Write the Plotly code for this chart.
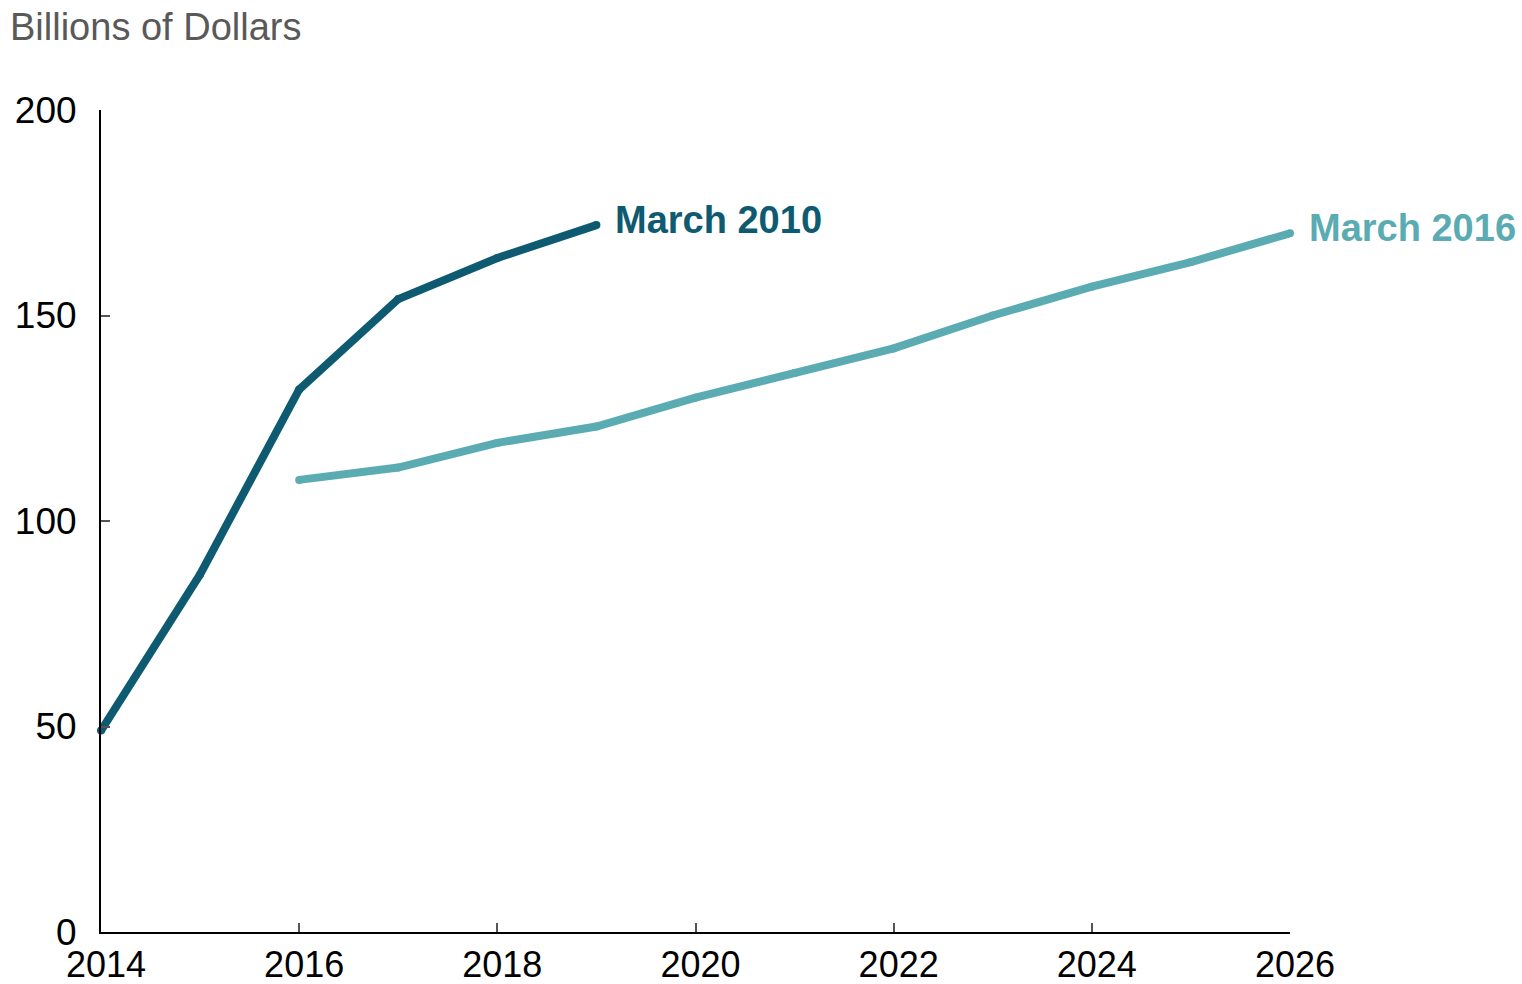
import plotly.graph_objects as go

# Projections, billions of dollars
years_2010 = [2014, 2015, 2016, 2017, 2018, 2019]
values_2010 = [49, 87, 132, 154, 164, 172]

years_2016 = [2016, 2017, 2018, 2019, 2020, 2021, 2022, 2023, 2024, 2025, 2026]
values_2016 = [110, 113, 119, 123, 130, 136, 142, 150, 157, 163, 170]

series_names = ["March 2010", "March 2016"]
x_ticks = [2014, 2016, 2018, 2020, 2022, 2024, 2026]
y_ticks = [0, 50, 100, 150, 200]

dark = "#0e5a70"
light = "#5aabb2"
font_family = "Liberation Sans, Arial, sans-serif"

fig = go.Figure()
for xs, ys, color, name in [
    (years_2010, values_2010, dark, series_names[0]),
    (years_2016, values_2016, light, series_names[1]),
]:
    fig.add_trace(go.Scatter(
        x=xs, y=ys, mode="lines+markers", name=name,
        line=dict(color=color, width=8),
        marker=dict(color=color, size=8),
        showlegend=False, cliponaxis=False,
    ))
    fig.add_annotation(
        x=xs[-1], y=ys[-1], text=f"<b>{name}</b>", showarrow=False,
        xanchor="left", yanchor="middle", xshift=17, yshift=5,
        font=dict(family=font_family, size=38, color=color),
    )

fig.update_layout(
    width=1522, height=984,
    margin=dict(l=101, r=232, t=110, b=52, autoexpand=False),
    paper_bgcolor="white", plot_bgcolor="white",
    font=dict(family=font_family, size=37, color="black"),
    title=dict(
        text="Billions of Dollars", xref="container", yref="container",
        x=10 / 1522, xanchor="left", y=1 - 27 / 984, yanchor="middle",
        font=dict(family=font_family, size=38, color="#595959"),
    ),
)
fig.update_xaxes(
    range=[2014, 2026], tickvals=x_ticks, showgrid=False, zeroline=False,
    showline=True, linecolor="black", linewidth=2, automargin=False,
    ticks="inside", ticklen=9, tickwidth=2, tickcolor="#555555",
    ticklabelstandoff=0, ticklabelshift=5,
    tickfont=dict(size=36, color="black"),
)
fig.update_yaxes(
    range=[0, 200], tickvals=y_ticks, showgrid=False, zeroline=False,
    showline=True, linecolor="black", linewidth=2, automargin=False,
    ticks="inside", ticklen=9, tickwidth=2, tickcolor="#555555",
    ticklabelstandoff=15, tickfont=dict(size=37, color="black"),
)

fig.write_html("out.html")
